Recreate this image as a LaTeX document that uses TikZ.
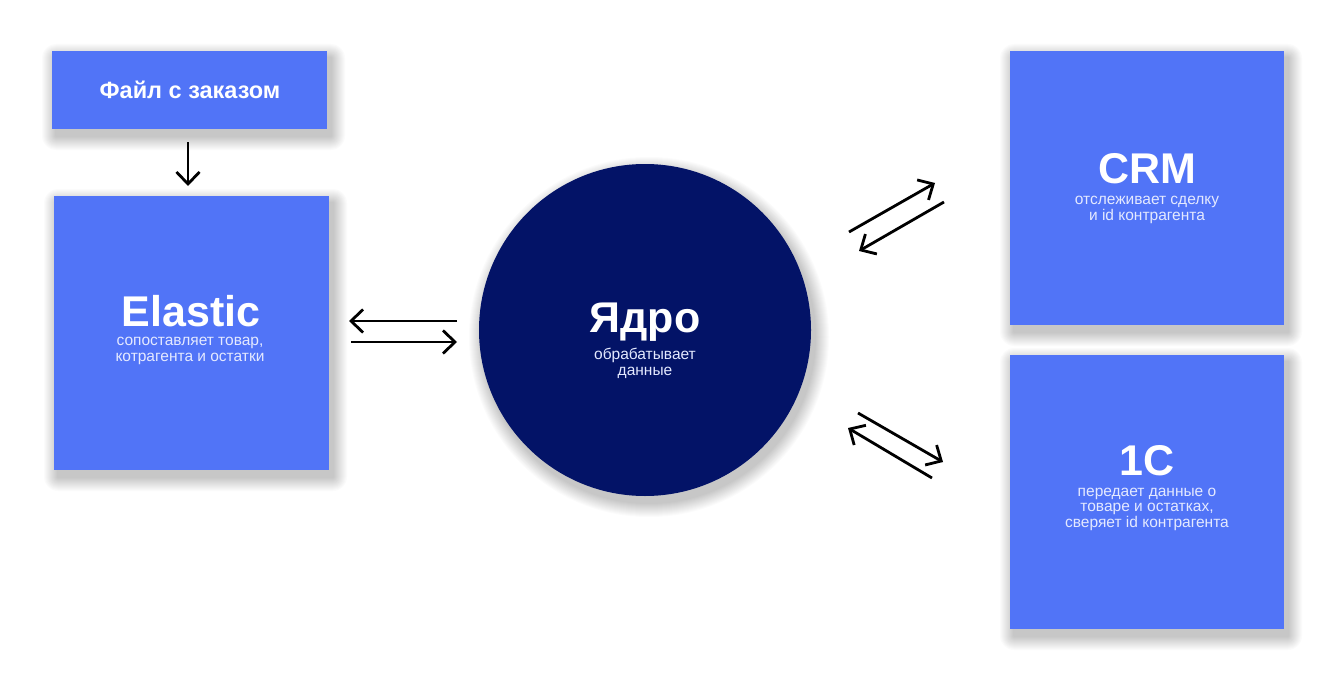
\documentclass[tikz,border=0pt]{standalone}
\usepackage{fontspec}
\setmainfont{Liberation Sans}
\usetikzlibrary{arrows.meta}
\definecolor{boxblue}{HTML}{5174F7}
\definecolor{coreblue}{HTML}{031367}
\definecolor{subwhite}{HTML}{E4E9FF}
\tikzset{
  card/.style={fill=boxblue, draw=none, inner sep=0pt},
  ttl/.style={text=white, font=\bfseries\fontsize{43}{48}\selectfont, anchor=base, inner sep=0pt},
  ttlsmall/.style={text=white, font=\bfseries\fontsize{23.5}{26}\selectfont, anchor=base, inner sep=0pt},
  sub/.style={text=subwhite, font=\fontsize{15.5}{15.5}\selectfont, anchor=base, align=center, inner sep=0pt},
  flow/.style={draw=black, line width=2.8pt, -{Straight Barb[length=12pt,width=23pt,line width=2.8pt]}}
}
\newcommand{\softshadow}[4]{% x1 y1 x2 y2
  \foreach \i in {1,...,14}{
    \fill[black, opacity=0.016, rounded corners=\i pt] (#1+4-\i,#2+7-\i) rectangle (#3+4+\i,#4+7+\i);
  }}
\begin{document}
\begin{tikzpicture}[x=1pt,y=-1pt]
\useasboundingbox (0,0) rectangle (1340,682);
\fill[white] (0,0) rectangle (1340,682);
% shadows
\softshadow{52}{51}{327}{129}
\softshadow{54}{196}{329}{470}
\softshadow{1010}{51}{1284}{325}
\softshadow{1010}{355}{1284}{629}
\foreach \i in {1,...,14}{\fill[black, opacity=0.016] (649,337) circle (166+\i);}
% boxes
\node[card, minimum width=275pt, minimum height=78pt] (file) at (189.5,90) {};
\node[card, minimum width=275pt, minimum height=274pt] (elastic) at (191.5,333) {};
\node[card, minimum width=274pt, minimum height=274pt] (crm) at (1147,188) {};
\node[card, minimum width=274pt, minimum height=274pt] (onec) at (1147,492) {};
\node[circle, fill=coreblue, minimum size=332pt, inner sep=0pt] (core) at (645,330) {};
% texts
\node[ttlsmall] (tfile) at (190,99) {Файл с заказом};
\node[ttl] (telastic) at (191,326) {Elastic};
\node[sub] (selastic) at (190,361) {сопоставляет товар,\\котрагента и остатки};
\node[ttl] (tcore) at (645,332) {Ядро};
\node[sub] (score) at (645,375) {обрабатывает\\данные};
\node[ttl] (tcrm) at (1147,183) {CRM};
\node[sub] (scrm) at (1147,220) {отслеживает сделку\\и id контрагента};
\node[ttl] (tonec) at (1147,475) {1C};
\node[sub] (sonec) at (1147,527) {передает данные о\\товаре и остатках,\\сверяет id контрагента};
% arrow endpoints
\coordinate (d1) at (188,142); \coordinate (d2) at (188,186);
\coordinate (l1) at (457,321); \coordinate (l2) at (349,321);
\coordinate (r1) at (351,342); \coordinate (r2) at (457,342);
\coordinate (c1) at (849,232); \coordinate (c2) at (935,183);
\coordinate (c3) at (944,202); \coordinate (c4) at (859,251);
\coordinate (o1) at (858,413); \coordinate (o2) at (943,462);
\coordinate (o3) at (932,478); \coordinate (o4) at (848,428);
\draw[flow] (d1) -- (d2);
\draw[flow] (l1) -- (l2);
\draw[flow] (r1) -- (r2);
\draw[flow] (c1) -- (c2);
\draw[flow] (c3) -- (c4);
\draw[flow] (o1) -- (o2);
\draw[flow] (o3) -- (o4);
\end{tikzpicture}
\end{document}
